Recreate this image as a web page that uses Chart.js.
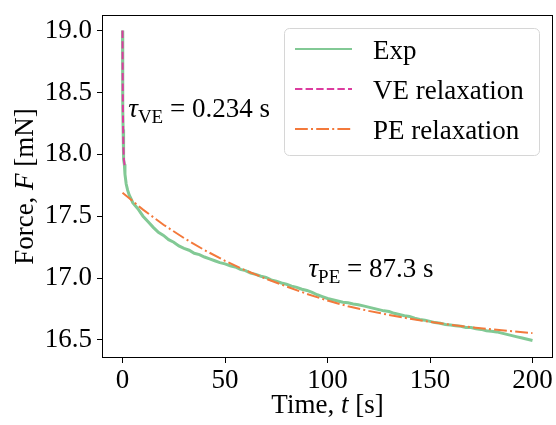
<!DOCTYPE html>
<html>
<head>
<meta charset="utf-8">
<script src="https://cdn.jsdelivr.net/npm/chart.js@4.4.1/dist/chart.umd.min.js"></script>
<style>
  html, body { margin: 0; padding: 0; background: #fff; }
  #wrap { width: 556px; height: 425px; }
</style>
</head>
<body>
<div id="wrap"><canvas id="relaxChart" width="556" height="425"></canvas></div>
<script>
const expTime = [0, 0.05, 0.1, 0.15, 0.2, 0.3, 0.4, 0.5, 0.7, 0.9, 1.2, 1.8, 2.5, 3.3, 4.2,
  5, 7.5, 10, 12.5, 15, 17.5, 20, 22.5, 25, 27.5, 30, 32.5, 35, 37.5, 40, 42.5, 45, 47.5,
  50, 52.5, 55, 57.5, 60, 62.5, 65, 67.5, 70, 72.5, 75, 77.5, 80, 82.5, 85, 87.5, 90, 92.5,
  95, 97.5, 100, 102.5, 105, 107.5, 110, 112.5, 115, 117.5, 120, 122.5, 125, 127.5, 130,
  132.5, 135, 137.5, 140, 142.5, 145, 147.5, 150, 152.5, 155, 157.5, 160, 162.5, 165, 167.5,
  170, 172.5, 175, 177.5, 180, 182.5, 185, 187.5, 190, 192.5, 195, 197.5, 200];
const expForce = [19.0, 18.78, 18.61, 18.48, 18.37, 18.2, 18.1, 18.03, 17.96, 17.92, 17.84, 17.76, 17.71, 17.67, 17.64,
  17.61, 17.56, 17.5, 17.455, 17.41, 17.37, 17.345, 17.31, 17.29, 17.26, 17.24, 17.225, 17.2, 17.19, 17.17, 17.155, 17.14, 17.125,
  17.115, 17.1, 17.09, 17.07, 17.06, 17.04, 17.03, 17.015, 17.005, 16.985, 16.975, 16.96, 16.95, 16.935, 16.925, 16.91, 16.9, 16.885,
  16.865, 16.85, 16.835, 16.825, 16.815, 16.805, 16.8, 16.79, 16.785, 16.775, 16.765, 16.755, 16.745, 16.735, 16.73,
  16.715, 16.705, 16.695, 16.69, 16.675, 16.665, 16.66, 16.65, 16.64, 16.635, 16.625, 16.62, 16.615, 16.61, 16.6,
  16.6, 16.59, 16.585, 16.575, 16.57, 16.565, 16.555, 16.545, 16.535, 16.525, 16.515, 16.505, 16.495];

// viscoelastic fit (fast decay)
const veTime = [0, 0.05, 0.1, 0.15, 0.2, 0.3, 0.4, 0.5, 0.7, 1.0, 1.2];
const veForce = [19.0, 18.79, 18.62, 18.48, 18.37, 18.21, 18.1, 18.03, 17.955, 17.915, 17.905];

// poroelastic fit (slow decay)
const peTime = [0, 10, 20, 30, 40, 50, 60, 70, 80, 90, 100, 110, 120, 130, 140, 150, 160, 170, 180, 190, 200];
const peForce = [17.69, 17.553, 17.431, 17.323, 17.226, 17.139, 17.062, 16.994, 16.932, 16.872, 16.818,
  16.772, 16.735, 16.702, 16.672, 16.646, 16.623, 16.603, 16.586, 16.57, 16.555];

const seriesLabels = ["Exp", "VE relaxation", "PE relaxation"];
const xTicks = [0, 50, 100, 150, 200];
const yTicks = [16.5, 17.0, 17.5, 18.0, 18.5, 19.0];
const tauVE = "0.234";
const tauPE = "87.3";

const serif = "'Liberation Serif', 'DejaVu Serif', serif";
const fontSize = 27;

const toPoints = (xs, ys) => xs.map((x, i) => ({ x: x, y: ys[i] }));

// draw a row of text pieces with their own fonts (for italics and subscripts)
const drawRuns = (ctx, runs, x, y, center) => {
  let total = 0;
  runs.forEach((r) => {
    ctx.font = r.font;
    total += ctx.measureText(r.text).width;
  });
  let cx = center ? x - total / 2 : x;
  runs.forEach((r) => {
    ctx.font = r.font;
    ctx.fillText(r.text, cx, y + (r.dy || 0));
    cx += ctx.measureText(r.text).width;
  });
};

const extrasPlugin = {
  id: "extras",
  afterDraw(chart) {
    const ctx = chart.ctx;
    const area = chart.chartArea;
    const xs = chart.scales.x;
    const ys = chart.scales.y;
    const normal = `${fontSize}px ${serif}`;
    const italic = `italic ${fontSize}px ${serif}`;
    const sub = `19px ${serif}`;

    ctx.save();
    // frame
    ctx.strokeStyle = "#000";
    ctx.lineWidth = 1;
    ctx.strokeRect(area.left + 0.5, area.top + 0.5, area.right - area.left - 1, area.bottom - area.top - 1);

    ctx.fillStyle = "#000";
    ctx.textBaseline = "alphabetic";
    ctx.textAlign = "left";

    // tau annotations
    drawRuns(ctx, [
      { text: "\u03c4", font: italic },
      { text: "VE", font: sub, dy: 6 },
      { text: " = " + tauVE + " s", font: normal },
    ], xs.getPixelForValue(2.8), ys.getPixelForValue(18.30), false);
    drawRuns(ctx, [
      { text: "\u03c4", font: italic },
      { text: "PE", font: sub, dy: 6 },
      { text: " = " + tauPE + " s", font: normal },
    ], xs.getPixelForValue(90.7), ys.getPixelForValue(17.01), false);

    // axis titles
    drawRuns(ctx, [
      { text: "Time, ", font: normal },
      { text: "t", font: italic },
      { text: " [s]", font: normal },
    ], (area.left + area.right) / 2, area.bottom + 55, true);

    ctx.save();
    ctx.translate(33, (area.top + area.bottom) / 2);
    ctx.rotate(-Math.PI / 2);
    drawRuns(ctx, [
      { text: "Force, ", font: normal },
      { text: "F", font: italic },
      { text: " [mN]", font: normal },
    ], 0, 0, true);
    ctx.restore();

    // legend box
    const lx = area.right - 269;
    const ly = area.top + 13;
    const lw = 255;
    const lh = 127;
    ctx.beginPath();
    ctx.roundRect(lx + 0.5, ly + 0.5, lw, lh, 5);
    ctx.fillStyle = "rgba(255,255,255,0.8)";
    ctx.fill();
    ctx.strokeStyle = "#d6d6d6";
    ctx.lineWidth = 1;
    ctx.stroke();

    const legendOrder = [0, 1, 2];
    legendOrder.forEach((idx, row) => {
      const ds = chart.data.datasets[idx];
      const yy = ly + 21 + row * 40;
      ctx.beginPath();
      ctx.setLineDash(ds.borderDash || []);
      ctx.strokeStyle = ds.borderColor;
      ctx.lineWidth = 2;
      ctx.moveTo(lx + 11, yy);
      ctx.lineTo(lx + 68, yy);
      ctx.stroke();
      ctx.setLineDash([]);
      ctx.fillStyle = "#000";
      ctx.font = normal;
      ctx.fillText(ds.label, lx + 89, yy + 10);
    });
    ctx.restore();
  },
};

new Chart(document.getElementById("relaxChart"), {
  type: "line",
  data: {
    datasets: [
      {
        label: seriesLabels[0],
        data: toPoints(expTime, expForce),
        borderColor: "#82c995",
        borderWidth: 3,
        order: 2,
      },
      {
        label: seriesLabels[1],
        data: toPoints(veTime, veForce),
        borderColor: "#dc3c9f",
        borderWidth: 2,
        borderDash: [7.4, 3.2],
        order: 0,
      },
      {
        label: seriesLabels[2],
        data: toPoints(peTime, peForce),
        borderColor: "#f3793b",
        borderWidth: 2,
        borderDash: [12.8, 3.2, 2, 3.2],
        order: 1,
      },
    ],
  },
  options: {
    responsive: false,
    animation: false,
    layout: { padding: { top: 15, right: 3, left: 0, bottom: 0 } },
    elements: { point: { radius: 0 }, line: { tension: 0, fill: false } },
    plugins: { legend: { display: false }, tooltip: { enabled: false } },
    scales: {
      x: {
        type: "linear",
        min: -10,
        max: 210,
        afterBuildTicks: (scale) => { scale.ticks = xTicks.map((v) => ({ value: v })); },
        afterFit: (scale) => {
          scale.height = 67;
          scale.paddingLeft = 0;
          scale.paddingRight = 0;
        },
        border: { display: false },
        grid: { drawOnChartArea: false, drawTicks: true, tickLength: 5, color: "#000" },
        ticks: { color: "#000", padding: 2, font: { family: serif, size: fontSize }, maxRotation: 0 },
      },
      y: {
        type: "linear",
        min: 16.354,
        max: 19.126,
        afterBuildTicks: (scale) => { scale.ticks = yTicks.map((v) => ({ value: v })); },
        afterFit: (scale) => {
          scale.width = 102;
          scale.paddingTop = 0;
          scale.paddingBottom = 0;
        },
        border: { display: false },
        grid: { drawOnChartArea: false, drawTicks: true, tickLength: 5, color: "#000" },
        ticks: {
          color: "#000",
          padding: 5,
          font: { family: serif, size: fontSize },
          callback: (v) => Number(v).toFixed(1),
        },
      },
    },
  },
  plugins: [extrasPlugin],
});
</script>
</body>
</html>
